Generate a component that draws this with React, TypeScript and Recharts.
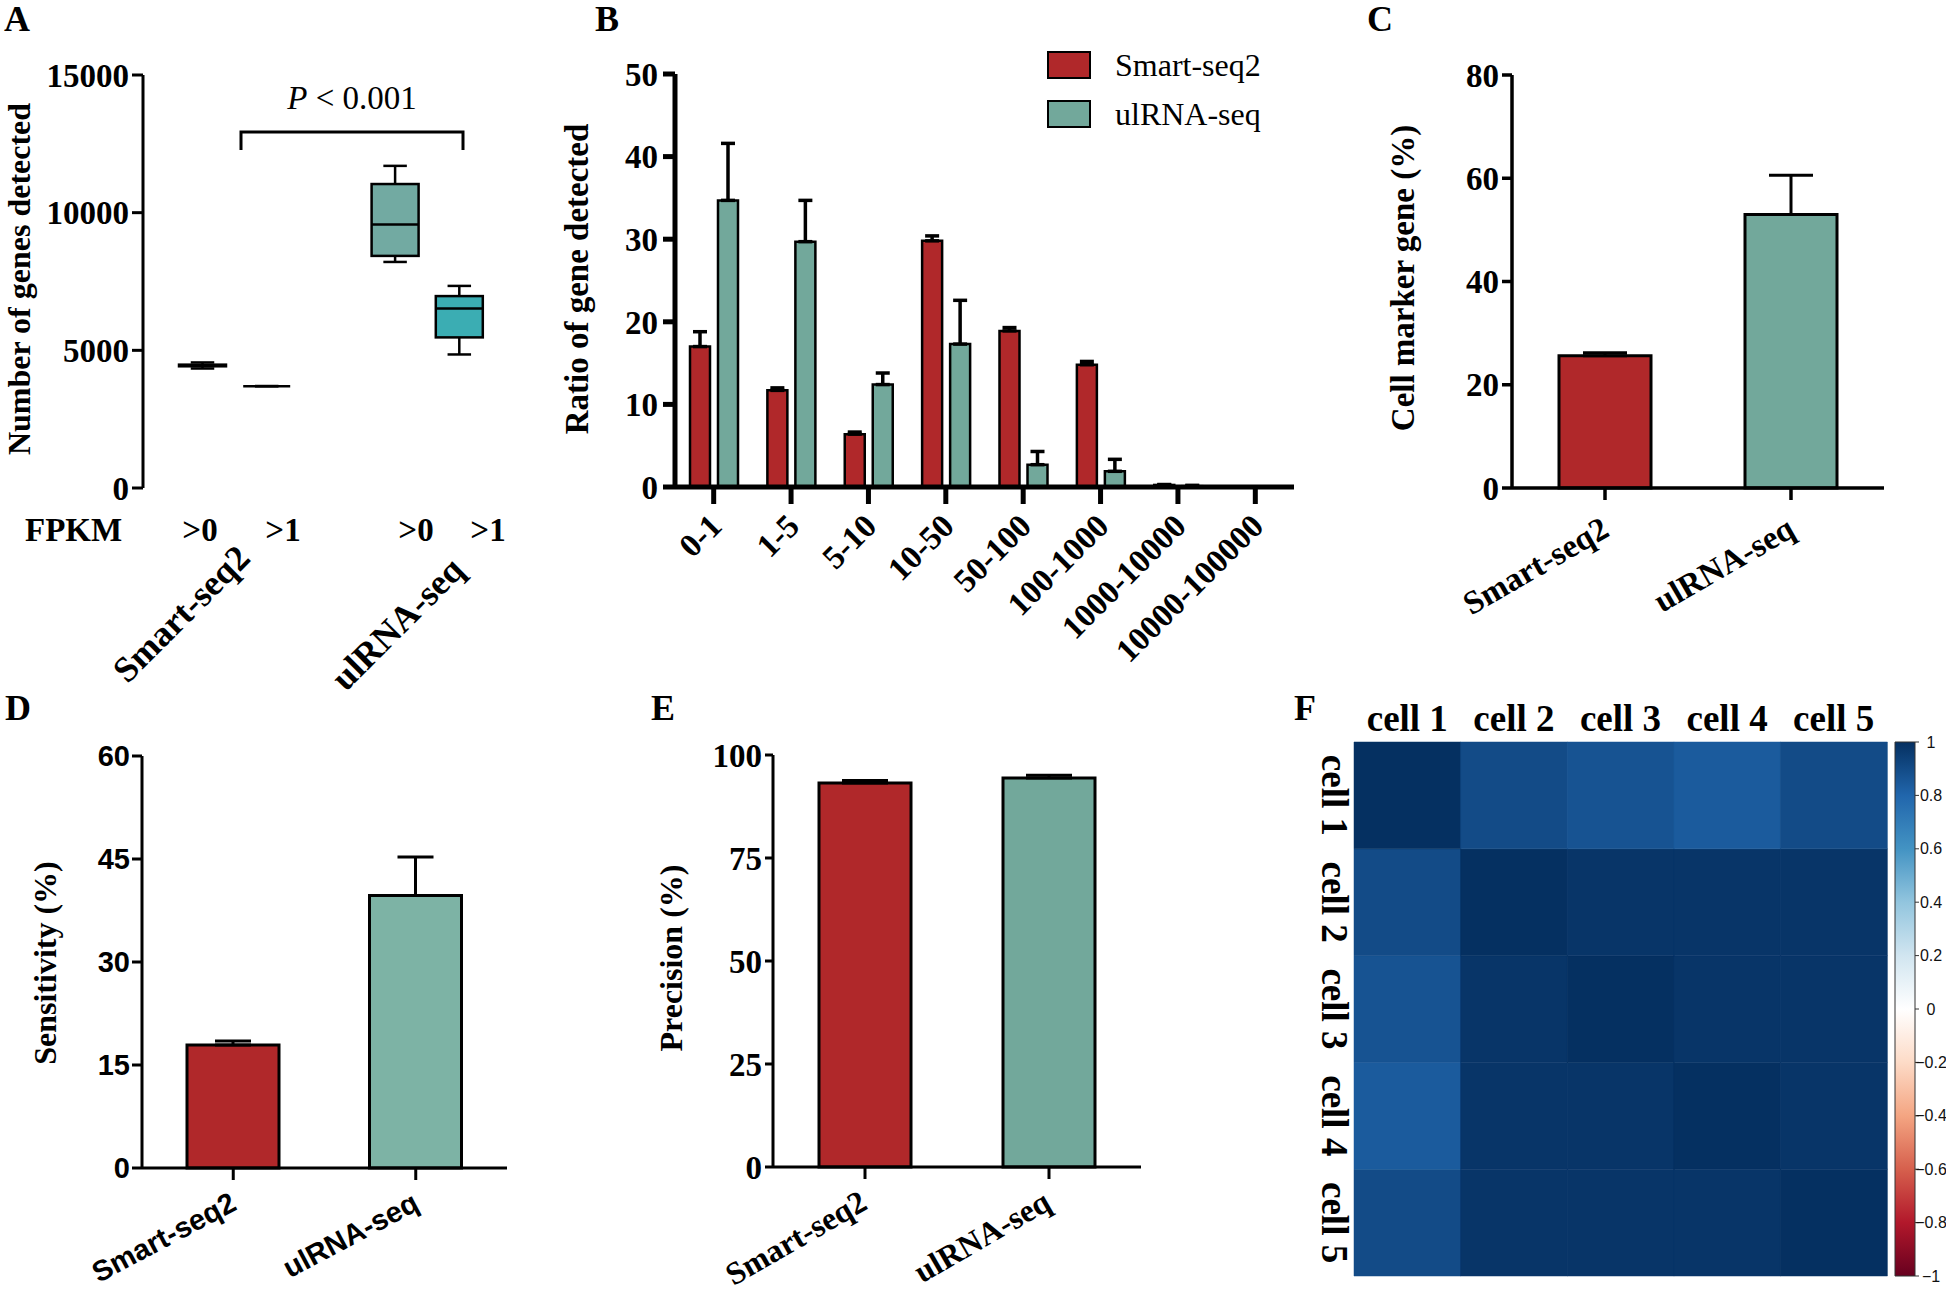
import React from 'react';
import { BarChart, Bar, ComposedChart, XAxis, YAxis, ErrorBar, Cell, Legend } from 'recharts';

const SERIF = '"Liberation Serif", "Times New Roman", serif';
const SANS = '"Liberation Sans", Arial, sans-serif';
const RED = '#b0282a';
const TEAL = '#72a89b';
const TEAL_LIGHT = '#7db3a5';

// A: genes detected per cell (box plots)
const A_GROUPS = ['Smart-seq2 >0', 'Smart-seq2 >1', 'gap', 'ulRNA-seq >0', 'ulRNA-seq >1'];
const A_MIN = [4340, 3700, null, 8210, 4850];
const A_Q1 = [4420, 3700, null, 8430, 5470];
const A_MEDIAN = [4450, 3700, null, 9570, 6520];
const A_Q3 = [4480, 3700, null, 11040, 6970];
const A_MAX = [4560, 3700, null, 11700, 7340];
const A_FILLS = ['#ffffff', '#ffffff', null, '#72aaa2', '#3badb3'];
const A_TICKS = [0, 5000, 10000, 15000];

// B: ratio of genes detected by FPKM bin
const B_BINS = ['0-1', '1-5', '5-10', '10-50', '50-100', '100-1000', '1000-10000', '10000-100000'];
const B_SMART = [17.0, 11.7, 6.4, 29.8, 18.9, 14.8, 0.25, 0];
const B_SMART_ERR = [1.8, 0.3, 0.25, 0.6, 0.4, 0.4, 0.05, 0];
const B_ULRNA = [34.7, 29.7, 12.4, 17.3, 2.7, 1.9, 0.1, 0];
const B_ULRNA_ERR = [6.9, 5.0, 1.4, 5.3, 1.6, 1.45, 0.1, 0];
const B_TICKS = [0, 10, 20, 30, 40, 50];

// C, D, E: two-method comparisons
const METHODS = ['Smart-seq2', 'ulRNA-seq'];
const C_MARKER = [25.6, 53.0];
const C_MARKER_ERR = [0.6, 7.6];
const C_TICKS = [0, 20, 40, 60, 80];
const D_SENS = [17.9, 39.7];
const D_SENS_ERR = [0.6, 5.6];
const D_TICKS = [0, 15, 30, 45, 60];
const E_PREC = [93.2, 94.4];
const E_PREC_ERR = [0.6, 0.7];
const E_TICKS = [0, 25, 50, 75, 100];

// F: correlation between cells
const CELLS = ['cell 1', 'cell 2', 'cell 3', 'cell 4', 'cell 5'];
const CORR = [
  [1.0, 0.9, 0.87, 0.84, 0.9],
  [0.9, 1.0, 0.98, 0.98, 0.98],
  [0.87, 0.98, 1.0, 0.98, 0.98],
  [0.84, 0.98, 0.98, 1.0, 0.98],
  [0.9, 0.98, 0.98, 0.98, 1.0],
];
const CB_TICKS = [1, 0.8, 0.6, 0.4, 0.2, 0, -0.2, -0.4, -0.6, -0.8, -1];
const RDBU = ['#67001f', '#b2182b', '#d6604d', '#f4a582', '#fddbc7', '#ffffff', '#d1e5f0', '#92c5de', '#4393c3', '#2166ac', '#053061'];

function hexRgb(h: string) {
  return [1, 3, 5].map((k) => parseInt(h.slice(k, k + 2), 16));
}

function corrColor(v: number) {
  const t = (v + 1) * 5;
  const i = Math.max(0, Math.min(9, Math.floor(t)));
  const f = t - i;
  const a = hexRgb(RDBU[i]);
  const b = hexRgb(RDBU[i + 1]);
  const c = a.map((ai, k) => Math.round(ai + (b[k] - ai) * f));
  return `rgb(${c.join(',')})`;
}

const axisStyle = (w: number) => ({ stroke: '#000', strokeWidth: w });
const serifTick = { fill: '#000', fontFamily: SERIF, fontWeight: 'bold', fontSize: 33 };

function RotTick(props: any) {
  const { x, y, payload, angle, dx, dy, family, size } = props;
  const ax = x + dx;
  const ay = y + dy;
  return (
    <text x={ax} y={ay} transform={`rotate(${angle} ${ax} ${ay})`} textAnchor="end"
      fontFamily={family} fontWeight="bold" fontSize={size} fill="#000">
      {payload.value}
    </text>
  );
}

function BoxShape(props: any) {
  const { x, y, width, height, payload } = props;
  if (payload.max == null) return null;
  const span = payload.max - payload.min;
  const py = (v: number) => (span === 0 ? y : y + (height * (payload.max - v)) / span);
  const cx = x + width / 2;
  const cap = width / 4;
  return (
    <g stroke="#000" strokeWidth={2.5}>
      <line x1={cx} x2={cx} y1={py(payload.max)} y2={py(payload.q3)} />
      <line x1={cx} x2={cx} y1={py(payload.q1)} y2={py(payload.min)} />
      <line x1={cx - cap} x2={cx + cap} y1={py(payload.max)} y2={py(payload.max)} />
      <line x1={cx - cap} x2={cx + cap} y1={py(payload.min)} y2={py(payload.min)} />
      <rect x={x} y={py(payload.q3)} width={width} height={py(payload.q1) - py(payload.q3)} fill={payload.fill} />
      <line x1={x} x2={x + width} y1={py(payload.median)} y2={py(payload.median)} />
    </g>
  );
}

function PanelA() {
  const data = A_GROUPS.map((g, i) => ({
    name: g,
    range: A_MAX[i] == null ? null : [A_MIN[i], A_MAX[i]],
    min: A_MIN[i], q1: A_Q1[i], median: A_MEDIAN[i], q3: A_Q3[i], max: A_MAX[i], fill: A_FILLS[i],
  }));
  return (
    <div style={{ position: 'absolute', left: 0, top: 0 }}>
      <ComposedChart width={520} height={520} data={data} margin={{ top: 75, right: 29, bottom: 32, left: 0 }}>
        <XAxis dataKey="name" hide padding={{ left: 27, right: 0 }} />
        <YAxis width={143} domain={[0, 15000]} ticks={A_TICKS} interval={0} tickSize={11} tickMargin={3}
          axisLine={axisStyle(3)} tickLine={axisStyle(3)} tick={serifTick} />
        <Bar dataKey="range" barSize={47} shape={BoxShape} isAnimationActive={false} />
      </ComposedChart>
    </div>
  );
}

function BLegend({ payload }: any) {
  return (
    <div>
      {(payload || []).map((e: any) => (
        <div key={e.value} style={{ display: 'flex', alignItems: 'center', height: 28, marginBottom: 21 }}>
          <div style={{ width: 40, height: 24, background: e.color, border: '2px solid #000' }} />
          <span style={{ marginLeft: 24, fontFamily: SERIF, fontSize: 32, color: '#000' }}>{e.value}</span>
        </div>
      ))}
    </div>
  );
}

function PanelB() {
  const data = B_BINS.map((b, i) => ({
    bin: b,
    smart: B_SMART[i], smartErr: [0, B_SMART_ERR[i]],
    ulrna: B_ULRNA[i], ulrnaErr: [0, B_ULRNA_ERR[i]],
  }));
  return (
    <div style={{ position: 'absolute', left: 560, top: 0 }}>
      <BarChart width={760} height={700} data={data} margin={{ top: 74, right: 26, bottom: 0, left: 0 }} barSize={20} barGap={8}>
        <XAxis dataKey="bin" height={213} interval={0} tickSize={17} tickMargin={2}
          axisLine={axisStyle(5)} tickLine={axisStyle(5)}
          tick={(t: any) => <RotTick {...t} angle={-45} dx={10} dy={22} family={SERIF} size={33} />} />
        <YAxis width={115} domain={[0, 50]} ticks={B_TICKS} interval={0} tickSize={12} tickMargin={5}
          axisLine={axisStyle(5)} tickLine={axisStyle(5)} tick={serifTick} />
        <Legend layout="vertical" align="center" verticalAlign="middle" content={BLegend}
          wrapperStyle={{ left: 487, top: 51, width: 260 }} />
        <Bar dataKey="smart" name="Smart-seq2" fill={RED} stroke="#000" strokeWidth={2.5} isAnimationActive={false}>
          <ErrorBar dataKey="smartErr" width={7} stroke="#000" strokeWidth={3.5} direction="y" />
        </Bar>
        <Bar dataKey="ulrna" name="ulRNA-seq" fill={TEAL} stroke="#000" strokeWidth={2.5} isAnimationActive={false}>
          <ErrorBar dataKey="ulrnaErr" width={7} stroke="#000" strokeWidth={3.5} direction="y" />
        </Bar>
      </BarChart>
    </div>
  );
}

function TwoBarPanel(p: any) {
  const data = METHODS.map((m, i) => ({ name: m, value: p.values[i], err: [0, p.errs[i]] }));
  const tickStyle = { fill: '#000', fontFamily: p.tickFamily, fontWeight: 'bold', fontSize: p.tickSize };
  return (
    <div style={{ position: 'absolute', left: p.left, top: p.top }}>
      <BarChart width={p.width} height={p.height} data={data}
        margin={{ top: p.plotTop, right: p.width - p.plotRight, bottom: 0, left: 0 }}>
        <XAxis dataKey="name" height={p.height - p.plotBottom} interval={0} tickSize={12} tickMargin={2}
          axisLine={axisStyle(p.line)} tickLine={axisStyle(p.line)}
          tick={(t: any) => <RotTick {...t} angle={p.angle} dx={p.labelDx} dy={p.labelDy} family={p.labelFamily} size={p.labelSize} />} />
        <YAxis width={p.yWidth} domain={[0, p.ticks[p.ticks.length - 1]]} ticks={p.ticks} interval={0}
          tickSize={p.yTickLen} tickMargin={p.tickMargin} axisLine={axisStyle(p.line)} tickLine={axisStyle(p.line)} tick={tickStyle} />
        <Bar dataKey="value" barSize={92} stroke="#000" strokeWidth={3} isAnimationActive={false}>
          {data.map((d, i) => <Cell key={d.name} fill={p.colors[i]} />)}
          <ErrorBar dataKey="err" width={p.cap} stroke="#000" strokeWidth={3} direction="y" />
        </Bar>
      </BarChart>
    </div>
  );
}

function ColTick(props: any) {
  return (
    <text x={props.x} y={props.y - 3} textAnchor="middle" fontFamily={SERIF} fontWeight="bold" fontSize={37} fill="#000">
      {props.payload.value}
    </text>
  );
}

function RowTick(props: any) {
  const bx = props.x - 24;
  const name = CELLS[4 - Math.floor(props.payload.value)];
  return (
    <text x={bx} y={props.y} transform={`rotate(90 ${bx} ${props.y})`} textAnchor="middle"
      fontFamily={SERIF} fontWeight="bold" fontSize={37} fill="#000">
      {name}
    </text>
  );
}

function CbTick(props: any) {
  const v = props.payload.value;
  const label = v < 0 ? `\u2212${Math.abs(v)}` : `${v}`;
  return (
    <text x={props.x + 10} y={props.y} textAnchor="middle" dominantBaseline="central" fontFamily={SANS} fontSize={16} fill="#111">
      {label}
    </text>
  );
}

function PanelF() {
  const heat = CELLS.map((c) => {
    const row: any = { col: c };
    CELLS.forEach((_, i) => { row[`r${i}`] = 1; });
    return row;
  });
  return (
    <>
      <div style={{ position: 'absolute', left: 1290, top: 680 }}>
        <BarChart width={610} height={613} data={heat} margin={{ top: 0, right: 13, bottom: 17, left: 0 }} barCategoryGap={0}>
          <XAxis dataKey="col" orientation="top" height={62} interval={0} axisLine={false} tickLine={false} tick={ColTick} />
          <YAxis width={64} type="number" domain={[0, 5]} ticks={[0.5, 1.5, 2.5, 3.5, 4.5]} interval={0}
            axisLine={false} tickLine={false} tick={RowTick} />
          {[4, 3, 2, 1, 0].map((i) => (
            <Bar key={i} dataKey={`r${i}`} stackId="heat" isAnimationActive={false}>
              {CELLS.map((c, j) => (
                <Cell key={c} fill={corrColor(CORR[i][j])} stroke={corrColor(CORR[i][j])} strokeWidth={0.5} />
              ))}
            </Bar>
          ))}
        </BarChart>
      </div>
      <div style={{ position: 'absolute', left: 1890, top: 680 }}>
        <BarChart width={56} height={613} data={[{ name: 'scale', range: [-1, 1] }]}
          margin={{ top: 62, right: 0, bottom: 17, left: 5 }} barCategoryGap={0}>
          <defs>
            <linearGradient id="rdbu" x1="0" y1="0" x2="0" y2="1">
              {RDBU.map((c, k) => <stop key={k} offset={1 - k / 10} stopColor={c} />).reverse()}
            </linearGradient>
          </defs>
          <XAxis dataKey="name" hide />
          <YAxis orientation="right" width={31} type="number" domain={[-1, 1]} ticks={CB_TICKS} interval={0}
            axisLine={false} tickSize={4} tickMargin={2} tickLine={{ stroke: '#333', strokeWidth: 1 }} tick={CbTick} />
          <Bar dataKey="range" fill="url(#rdbu)" stroke="#333" strokeWidth={1} isAnimationActive={false} />
        </BarChart>
      </div>
    </>
  );
}

function Overlay() {
  const bold = { fontFamily: SERIF, fontWeight: 'bold' as const, fill: '#000' };
  const vLabel = (text: string, x: number, y: number, size: number) => (
    <text x={x} y={y} transform={`rotate(-90 ${x} ${y})`} textAnchor="middle" dominantBaseline="central" fontSize={size} {...bold}>
      {text}
    </text>
  );
  return (
    <svg width={1946} height={1293} style={{ position: 'absolute', left: 0, top: 0, pointerEvents: 'none' }}>
      <text x={4} y={31} fontSize={36} {...bold}>A</text>
      <text x={595} y={31} fontSize={36} {...bold}>B</text>
      <text x={1367} y={31} fontSize={36} {...bold}>C</text>
      <text x={5} y={720} fontSize={36} {...bold}>D</text>
      <text x={651} y={720} fontSize={36} {...bold}>E</text>
      <text x={1294} y={720} fontSize={36} {...bold}>F</text>

      {vLabel('Number of genes detected', 19, 279, 32)}
      <text x={352} y={109} textAnchor="middle" fontFamily={SERIF} fontSize={33} fill="#000">
        <tspan fontStyle="italic">P</tspan> &lt; 0.001
      </text>
      <path d="M241 150 V132 H463 V150" fill="none" stroke="#000" strokeWidth={3} />
      <text x={25} y={541} fontSize={33} {...bold}>FPKM</text>
      <text x={200} y={541} fontSize={33} textAnchor="middle" {...bold}>&gt;0</text>
      <text x={283} y={541} fontSize={33} textAnchor="middle" {...bold}>&gt;1</text>
      <text x={416} y={541} fontSize={33} textAnchor="middle" {...bold}>&gt;0</text>
      <text x={488} y={541} fontSize={33} textAnchor="middle" {...bold}>&gt;1</text>
      <text x={252} y={560} transform="rotate(-45 252 560)" textAnchor="end" fontSize={36} {...bold}>Smart-seq2</text>
      <text x={466} y={572} transform="rotate(-45 466 572)" textAnchor="end" fontSize={36} {...bold}>ulRNA-seq</text>

      {vLabel('Ratio of gene detected', 577, 279, 33)}
      {vLabel('Cell marker gene (%)', 1403, 278, 33)}
      {vLabel('Sensitivity (%)', 45, 963, 32)}
      {vLabel('Precision (%)', 671, 958, 32)}
    </svg>
  );
}

export default function App() {
  return (
    <div style={{ position: 'absolute', left: 0, top: 0, width: 1946, height: 1293, overflow: 'hidden', background: '#fff' }}>
      <PanelA />
      <PanelB />
      <TwoBarPanel left={1330} top={0} width={616} height={700} plotTop={75} plotBottom={488} plotRight={554}
        yWidth={182} ticks={C_TICKS} values={C_MARKER} errs={C_MARKER_ERR} colors={[RED, TEAL]} cap={22}
        line={3.5} tickFamily={SERIF} tickSize={33} tickMargin={3} yTickLen={10}
        angle={-30} labelDx={6} labelDy={33} labelFamily={SERIF} labelSize={33} />
      <TwoBarPanel left={0} top={680} width={560} height={613} plotTop={76} plotBottom={488} plotRight={507}
        yWidth={142} ticks={D_TICKS} values={D_SENS} errs={D_SENS_ERR} colors={[RED, TEAL_LIGHT]} cap={18}
        line={3} tickFamily={SANS} tickSize={29} tickMargin={2} yTickLen={10}
        angle={-28} labelDx={5} labelDy={27} labelFamily={SANS} labelSize={29} />
      <TwoBarPanel left={620} top={680} width={560} height={613} plotTop={75} plotBottom={487} plotRight={521}
        yWidth={153} ticks={E_TICKS} values={E_PREC} errs={E_PREC_ERR} colors={[RED, TEAL]} cap={23}
        line={3} tickFamily={SERIF} tickSize={33} tickMargin={3} yTickLen={8}
        angle={-30} labelDx={4} labelDy={27} labelFamily={SERIF} labelSize={32} />
      <PanelF />
      <Overlay />
    </div>
  );
}
